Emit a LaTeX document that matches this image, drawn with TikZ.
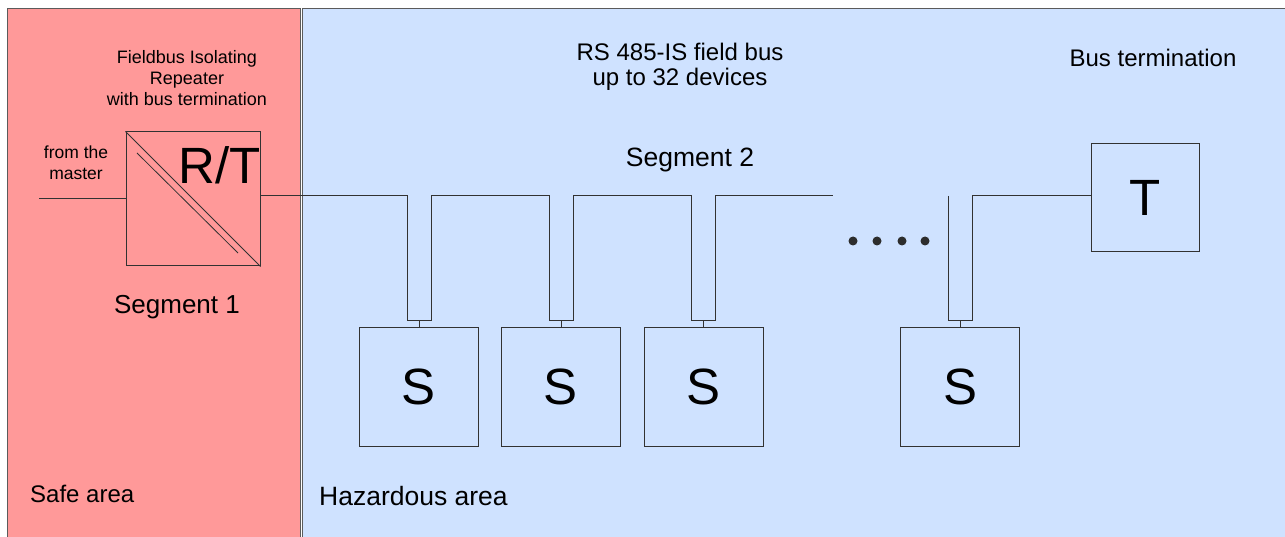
\documentclass[tikz,border=0pt]{standalone}
\usepackage{fontspec}
\setmainfont{Liberation Sans}
\definecolor{safecol}{RGB}{255,153,153}
\definecolor{hazcol}{RGB}{207,226,255}
\definecolor{linecol}{RGB}{50,50,50}
\tikzset{
  area/.style={draw=linecol!80, line width=1pt},
  box/.style={draw=linecol, line width=1pt, inner sep=0pt, fill=none},
  wire/.style={draw=linecol, line width=1pt},
  big/.style={font=\fontsize{51}{51}\selectfont},
  lbl/.style={anchor=base, inner sep=0pt},
  mlbl/.style={align=center, inner sep=0pt},
}
\begin{document}
\begin{tikzpicture}[x=1pt,y=-1pt]
\useasboundingbox (0,0) rectangle (1285,537);
% areas
\path[area, fill=safecol] (7,9) rectangle (300,560);
\path[area, fill=hazcol] (302,9) rectangle (1300,560);

% area labels
\node[lbl, anchor=base west, font=\fontsize{24}{28}\selectfont] (safe) at (30,502) {Safe area};
\node[lbl, anchor=base west, font=\fontsize{26.5}{30}\selectfont] (haz) at (319,505) {Hazardous area};

% repeater
\node[box, minimum width=134pt, minimum height=134pt] (rt) at (193,199) {};
\draw[wire, line width=0.8pt] (rt.north west) -- (rt.south east);
\draw[wire, line width=0.8pt] (137,153) -- (238,253);
\node[lbl, big] (rtlabel) at (220,184) {R/T};
\node[mlbl, font=\fontsize{18}{21}\selectfont] (fir) at (187,78) {Fieldbus Isolating\\Repeater\\with bus termination};
\node[mlbl, font=\fontsize{17.5}{21}\selectfont] (master) at (76,163) {from the\\master};
\coordinate (min) at (39,199);
\draw[wire] (min) -- (rt.west);
\node[lbl, font=\fontsize{26}{30}\selectfont] (seg1) at (177,313) {Segment 1};

% texts in hazardous area
\node[mlbl, font=\fontsize{24}{25}\selectfont] (rs) at (680,67) {RS 485-IS field bus\\up to 32 devices};
\node[lbl, font=\fontsize{24}{28}\selectfont] (bt) at (1153,67) {Bus termination};
\node[lbl, font=\fontsize{26.5}{30}\selectfont] (seg2) at (690,167) {Segment 2};

% slaves
\node[box, minimum width=119pt, minimum height=119pt, big] (s1) at (419,386.5) {S};
\node[box, minimum width=119pt, minimum height=119pt, big] (s2) at (561,386.5) {S};
\node[box, minimum width=119pt, minimum height=119pt, big] (s3) at (703.5,386.5) {S};
\node[box, minimum width=119pt, minimum height=119pt, big] (s4) at (960,386.5) {S};
% terminator
\node[box, minimum width=108pt, minimum height=108pt, big] (t) at (1145,198) {T};

% bus
\coordinate (busstart) at (260,196);
\coordinate (busend) at (833,196);
\coordinate (bus2) at (948,196);
\draw[wire] (busstart)
  -- (407,196) -- (407,321) -- (431,321) -- (431,196)
  -- (549,196) -- (549,321) -- (573,321) -- (573,196)
  -- (691.5,196) -- (691.5,321) -- (715.5,321) -- (715.5,196)
  -- (busend);
\draw[wire] (bus2) -- (948,321) -- (972,321) -- (972,196) -- (t.west |- bus2);
\draw[wire] (s1.north) -- ++(0,-6);
\draw[wire] (s2.north) -- ++(0,-6);
\draw[wire] (s3.north) -- ++(0,-6);
\draw[wire] (s4.north) -- ++(0,-6);

% dots
\foreach \x in {853,877,902,925} \fill[linecol!90!black] (\x,241) circle (4.5);
\end{tikzpicture}
\end{document}
